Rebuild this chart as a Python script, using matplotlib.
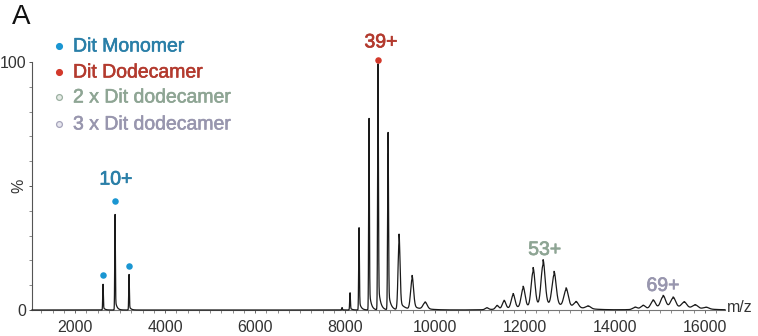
import numpy as np
import matplotlib
matplotlib.use("Agg")
import matplotlib.pyplot as plt
from matplotlib.ticker import MultipleLocator
from matplotlib.lines import Line2D
import matplotlib.patheffects as pe

plt.rcParams['font.family'] = ['Liberation Sans', 'DejaVu Sans']

# ---- data ----
mono_mz = [2622, 2889, 3200]
mono_int = [10.5, 39.0, 14.5]
mono_w = [7, 7, 7]

dodec_mz = [7933, 8111, 8311, 8533, 8733, 8956, 9200, 9489, 9778]
dodec_int = [1.0, 7.0, 33.5, 78.0, 100.0, 72.0, 30.6, 13.7, 3.0]
dodec_w = [8, 8, 8, 8, 9, 10, 22, 32, 45]

di_mz = [11150, 11378, 11533, 11733, 11956, 12178, 12400, 12644, 12911, 13133, 13400]
di_int = [0.8, 1.6, 3.5, 6.0, 8.7, 16.0, 18.8, 14.0, 7.7, 2.5, 1.2]
di_w = [35, 35, 38, 40, 42, 42, 44, 46, 48, 50, 55]

tri_mz = [14444, 14622, 14844, 15067, 15289, 15533, 15778, 16022]
tri_int = [1.0, 1.6, 3.6, 5.2, 4.4, 2.6, 1.6, 0.8]
tri_w = [50, 50, 52, 55, 55, 58, 60, 60]

hump_mz = [12300, 15200]
hump_int = [0.7, 0.5]
hump_w = [650, 550]

mono_marker_y = [14.0, 44.0, 17.7]
dodec_marker = (8733, 101.0)

charge_labels = ["10+", "39+", "53+", "69+"]
charge_pos = [(2911, 52.4), (8800, 107.7), (12440, 24.0), (15067, 9.5)]
legend_labels = ["Dit Monomer", "Dit Dodecamer", "2 x Dit dodecamer", "3 x Dit dodecamer"]

xticks = [2000, 4000, 6000, 8000, 10000, 12000, 14000, 16000]

# ---- colours ----
c_mono_dot = '#1a96d2'
c_mono_txt = '#2a7fa8'
c_dod_dot = '#d3392b'
c_dod_txt = '#b33a2e'
c_di_txt = '#8ea594'
c_tri_txt = '#9896ae'

# ---- spectrum rendering ----
x = np.arange(1044, 16445, 1.0)
y = np.zeros_like(x)

def add(mzs, ints, ws):
    global y
    for m, h, w in zip(mzs, ints, ws):
        g = np.exp(-0.5 * ((x - m) / w) ** 2)
        tail = np.where(x > m, np.exp(-(x - m) / (w * 5)), 0.0)
        y += h * (0.88 * g + 0.12 * tail)

add(mono_mz, mono_int, mono_w)
add(dodec_mz, dodec_int, dodec_w)
add(di_mz, di_int, di_w)
add(tri_mz, tri_int, tri_w)
for m, h, w in zip(hump_mz, hump_int, hump_w):
    y += h * np.exp(-0.5 * ((x - m) / w) ** 2)

W, H = 758, 336
fig = plt.figure(figsize=(W / 100, H / 100), dpi=100)
ax = fig.add_axes([32 / W, 26 / H, (725 - 32) / W, 248 / H])
ax.plot(x, y, color='#1a1a1a', lw=0.9, clip_on=False, zorder=3)
ax.set_xlim(1044, 16444)
ax.set_ylim(0, 100)

for s in ['top', 'right']:
    ax.spines[s].set_visible(False)
ax.spines['left'].set_color('#555555')
ax.spines['bottom'].set_color('#777777')
ax.spines['left'].set_linewidth(0.8)
ax.spines['bottom'].set_linewidth(0.8)
ax.spines['left'].set_bounds(0, 100)

ax.set_xticks(xticks)
ax.set_xticklabels([str(t) for t in xticks])
ax.xaxis.set_minor_locator(MultipleLocator(250))
ax.tick_params(axis='x', which='major', length=2.5, width=0.7, color='#666666',
               pad=5, labelsize=11.5, labelcolor='#333333')
ax.tick_params(axis='x', which='minor', length=1.8, width=0.6, color='#777777')

ax.set_yticks([0, 50, 100])
ax.set_yticklabels(['0', '%', '100'])
ax.yaxis.set_minor_locator(MultipleLocator(10))
ax.tick_params(axis='y', which='major', length=2.5, width=0.7, color='#555555',
               pad=1.5, labelsize=11.5, labelcolor='#333333')
ax.tick_params(axis='y', which='minor', length=2.5, width=0.6, color='#777777')
ax.get_yticklabels()[1].set_rotation(90)
ax.get_yticklabels()[1].set_va('center')

# markers on peaks
ax.scatter(mono_mz, mono_marker_y, s=22, color=c_mono_dot, zorder=4, clip_on=False, lw=0)
ax.scatter([dodec_marker[0]], [dodec_marker[1]], s=22, color=c_dod_dot, zorder=4, clip_on=False, lw=0)

# charge labels
ccols = [c_mono_txt, c_dod_txt, c_di_txt, c_tri_txt]
for lab, (px, py), c in zip(charge_labels, charge_pos, ccols):
    ax.text(px, py, lab, color=c, fontsize=14, ha='center', va='center', clip_on=False,
            path_effects=[pe.withStroke(linewidth=0.5, foreground=c)])

# m/z label
fig.text(727 / W, 1 - 308 / H, 'm/z', fontsize=11.5, color='#333333', ha='left', va='center')

# panel letter
fig.text(12 / W, 1 - 17 / H, 'A', fontsize=20, color='#111111', ha='left', va='center')

# legend
leg_y = [47, 73, 98, 125]
dot_fc = [c_mono_dot, c_dod_dot, '#e6ece7', '#e8e7ef']
dot_ec = [c_mono_dot, c_dod_dot, '#9bb0a1', '#a6a4bb']
txt_c = [c_mono_txt, c_dod_txt, c_di_txt, c_tri_txt]
for lab, yy, fc, ec, tc in zip(legend_labels, leg_y, dot_fc, dot_ec, txt_c):
    fig.text(73 / W, 1 - yy / H, lab, fontsize=14, color=tc, ha='left', va='center',
             path_effects=[pe.withStroke(linewidth=0.4, foreground=tc)])
    fig.add_artist(Line2D([59 / W], [1 - (yy - 1) / H], marker='o', markersize=4.2,
                          markerfacecolor=fc, markeredgecolor=ec, markeredgewidth=0.9,
                          linestyle='none', transform=fig.transFigure))

fig.savefig('out.png', dpi=100)
